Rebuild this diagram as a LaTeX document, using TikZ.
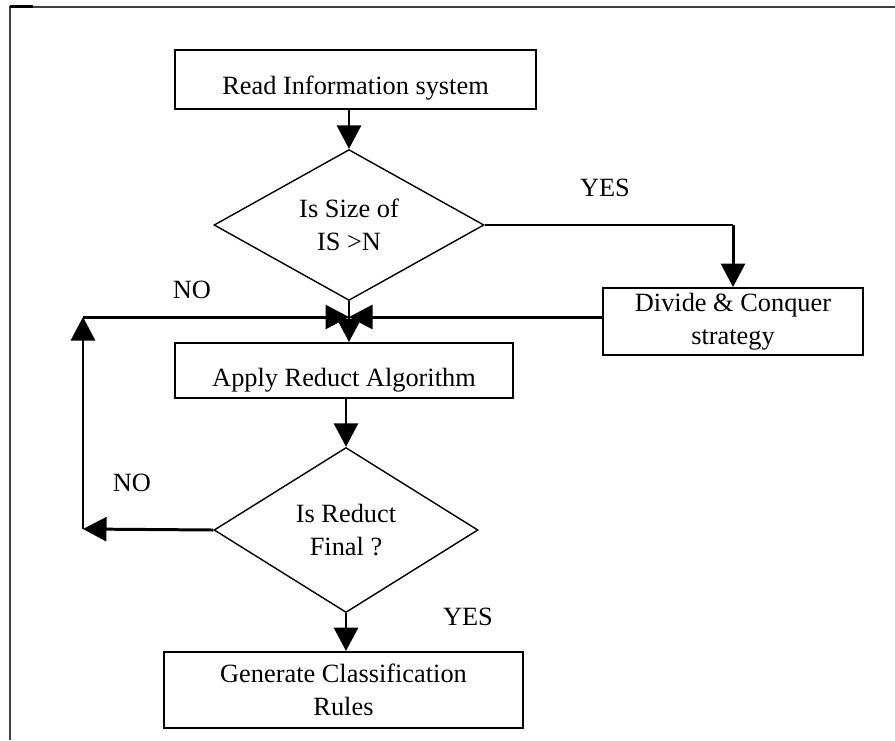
\documentclass[tikz,border=0pt]{standalone}
\usepackage{fontspec}
\setmainfont{Liberation Serif}
\usepackage{tikz}
\usetikzlibrary{positioning}
\usetikzlibrary{calc}
\usetikzlibrary{shapes.geometric}
\usetikzlibrary{arrows.meta}

\newcommand{\lowered}[2]{\raisebox{-#1}[\height][\depth]{#2}}

\begin{document}
\begin{tikzpicture}[
    font=\fontsize{15}{18.5}\selectfont,
    box/.style={draw, line width=1.1pt, rectangle, align=center, inner sep=0pt},
    decision/.style={draw, line width=0.8pt, diamond, align=center, inner sep=0pt},
    flow/.style={line width=1.7pt, -{Triangle[length=0.47cm, width=0.48cm]}},
    link/.style={line width=1.1pt},
    tag/.style={inner sep=0pt}
]
    \useasboundingbox (0,0) rectangle (17.9,-14.8);

    % page frame
    \draw[black!75, line width=1.2pt] (17.9,-0.14) -- (0.2,-0.14) -- (0.2,-14.8);
    \draw[line width=1.4pt] (0.2,-0.13) -- (0.66,-0.13);

    \node[box, minimum width=7.22cm, minimum height=1.18cm] (read) at (7.11,-1.59) {\lowered{0.17cm}{Read Information system}};
    \node[decision, minimum width=5.4cm, minimum height=2.92cm] (size) at (6.98,-4.50) {Is Size of\\IS >N};
    \node[box, minimum width=5.2cm, minimum height=1.34cm] (divide) at (14.66,-6.43) {Divide \& Conquer\\strategy};
    \node[box, minimum width=6.76cm, minimum height=1.10cm] (apply) at (6.88,-7.41) {\lowered{0.2cm}{Apply Reduct Algorithm}};
    \node[decision, minimum width=5.28cm, minimum height=3.3cm] (final) at (6.92,-10.6) {Is Reduct\\Final ?};
    \node[box, minimum width=7.18cm, minimum height=1.52cm] (rules) at (6.87,-13.8) {Generate Classification\\Rules};

    \coordinate (merge) at (6.98,-6.34);
    \coordinate (nobottom) at (1.66,-10.58);
    \coordinate (notop) at (1.66,-6.34);

    \node[tag] (yesone) at (12.1,-3.76) {YES};
    \node[tag] (noone) at (3.84,-5.8) {NO};
    \node[tag] (notwo) at (2.64,-9.66) {NO};
    \node[tag] (yestwo) at (9.36,-12.34) {YES};

    \draw[flow] (read.south -| size.north) -- (size.north);
    \draw[link] (size.east) -- (size.east -| divide.north);
    \draw[flow] (size.east -| divide.north) -- (divide.north);
    \draw[flow] (divide.west |- merge) -- (merge);
    \draw[flow] (size.south) -- (size.south |- apply.north);
    \draw[flow] (notop) -- (merge);
    \draw[flow] (apply.south -| final.north) -- (final.north);
    \draw[flow] (final.west) -- (nobottom);
    \draw[flow] (nobottom) -- (notop);
    \draw[flow] (final.south) -- (final.south |- rules.north);
\end{tikzpicture}
\end{document}
